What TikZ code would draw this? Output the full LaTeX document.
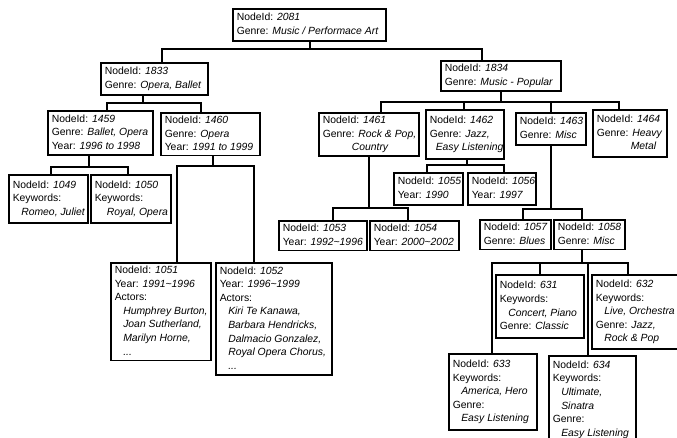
\documentclass[tikz,border=0pt]{standalone}
\usepackage{fontspec}
\setmainfont{Liberation Sans}
\newcommand\tbox[6]{%
  \pgfmathsetmacro\bw{#4-#2}\pgfmathsetmacro\bh{#5-#3}\pgfmathsetmacro\tw{#4-#2-7.5}%
  \node[tb,minimum width=\bw pt,minimum height=\bh pt] (#1) at (#2,#3)
    {\makebox[\tw pt][l]{\begin{tabular}{@{}l@{}}#6\end{tabular}}};}
\newcommand\iv[1]{\textit{#1}}
\newcommand\ind{\hspace*{8.5pt}}
\begin{document}
\begin{tikzpicture}[x=1pt,y=-1pt,
  tb/.style={draw, line width=1.2pt, anchor=north west, inner xsep=3.5pt, inner ysep=1pt,
    outer sep=0pt, font=\fontsize{10.4}{13.6}\selectfont},
  conn/.style={line width=1.2pt}]
\useasboundingbox (0,0) rectangle (677,437);
\clip (0,0) rectangle (677,437);
% boxes
\tbox{n2081}{233}{9}{386}{41}{NodeId: \iv{2081}\\Genre: \iv{Music / Performace Art}}
\tbox{n1833}{101}{63}{208}{95}{NodeId: \iv{1833}\\Genre: \iv{Opera, Ballet}}
\tbox{n1834}{441}{61}{561}{91}{NodeId: \iv{1834}\\Genre: \iv{Music - Popular}}
\tbox{n1459}{48}{111}{153}{155}{NodeId: \iv{1459}\\Genre: \iv{Ballet, Opera}\\Year: \iv{1996 to 1998}}
\tbox{n1460}{161}{113}{260}{155}{NodeId: \iv{1460}\\Genre: \iv{Opera}\\Year: \iv{1991 to 1999}}
\tbox{n1461}{319}{113}{419}{156}{NodeId: \iv{1461}\\Genre: \iv{Rock \& Pop,}\\\hspace*{29pt}\iv{Country}}
\tbox{n1462}{426}{110}{504}{159}{NodeId: \iv{1462}\\Genre: \iv{Jazz,}\\\hspace*{6pt}\iv{Easy Listening}}
\tbox{n1463}{516}{113}{586}{145}{NodeId: \iv{1463}\\Genre: \iv{Misc}}
\tbox{n1464}{593}{110}{667}{157}{NodeId: \iv{1464}\\Genre: \iv{Heavy}\\\hspace*{34pt}\iv{Metal}}
\tbox{n1049}{9}{175}{88}{223}{NodeId: \iv{1049}\\Keywords:\\\ind\iv{Romeo, Juliet}}
\tbox{n1050}{91}{175}{171}{223}{NodeId: \iv{1050}\\Keywords:\\\hspace*{12pt}\iv{Royal, Opera}}
\tbox{n1051}{111}{263}{211}{360}{NodeId: \iv{1051}\\Year: \iv{1991\textasciitilde1996}\\Actors:\\\ind\iv{Humphrey Burton,}\\\ind\iv{Joan Sutherland,}\\\ind\iv{Marilyn Horne,}\\\ind\iv{...}}
\tbox{n1052}{216}{263}{332}{375}{NodeId: \iv{1052}\\Year: \iv{1996\textasciitilde1999}\\Actors:\\\ind\iv{Kiri Te Kanawa,}\\\ind\iv{Barbara Hendricks,}\\\ind\iv{Dalmacio Gonzalez,}\\\ind\iv{Royal Opera Chorus,}\\\ind\iv{...}}
\tbox{n1053}{279}{221}{367}{250}{NodeId: \iv{1053}\\Year: \iv{1992\textasciitilde1996}}
\tbox{n1054}{370}{221}{459}{250}{NodeId: \iv{1054}\\Year: \iv{2000\textasciitilde2002}}
\tbox{n1055}{394}{173}{463}{205}{NodeId: \iv{1055}\\Year: \iv{1990}}
\tbox{n1056}{468}{173}{536}{205}{NodeId: \iv{1056}\\Year: \iv{1997}}
\tbox{n1057}{480}{220}{551}{249}{NodeId: \iv{1057}\\Genre: \iv{Blues}}
\tbox{n1058}{554}{220}{625}{249}{NodeId: \iv{1058}\\Genre: \iv{Misc}}
\tbox{n631}{496}{275}{584}{338}{NodeId: \iv{631}\\Keywords:\\\ind\iv{Concert, Piano}\\Genre: \iv{Classic}}
\tbox{n632}{592}{275}{690}{349}{NodeId: \iv{632}\\Keywords:\\\ind\iv{Live, Orchestra}\\Genre: \iv{Jazz,}\\\ind\iv{Rock \& Pop}}
\tbox{n633}{449}{354}{537}{430}{NodeId: \iv{633}\\Keywords:\\\ind\iv{America, Hero}\\Genre:\\\ind\iv{Easy Listening}}
\tbox{n634}{549}{356}{636}{443}{NodeId: \iv{634}\\Keywords:\\\ind\iv{Ultimate,}\\\ind\iv{Sinatra}\\Genre:\\\ind\iv{Easy Listening}}
% connectors
\coordinate (j1) at (310,49); \coordinate (b1l) at (162,49); \coordinate (b1r) at (482,49);
\draw[conn] (n2081.south -| j1) -- (j1);
\draw[conn] (n1833.north -| b1l) -- (b1l) -- (b1r) -- (n1834.north -| b1r);
\coordinate (j2) at (143,103); \coordinate (b2l) at (107,103); \coordinate (b2r) at (201,103);
\draw[conn] (n1833.south -| j2) -- (j2);
\draw[conn] (n1459.north -| b2l) -- (b2l) -- (b2r) -- (n1460.north -| b2r);
\coordinate (j3) at (89,167); \coordinate (b3l) at (51,167); \coordinate (b3r) at (128,167);
\draw[conn] (n1459.south -| j3) -- (j3);
\draw[conn] (n1049.north -| b3l) -- (b3l) -- (b3r) -- (n1050.north -| b3r);
\coordinate (j4) at (213,166); \coordinate (b4l) at (177,166); \coordinate (b4r) at (254,166);
\draw[conn] (n1460.south -| j4) -- (j4);
\draw[conn] (n1051.north -| b4l) -- (b4l) -- (b4r) -- (n1052.north -| b4r);
\coordinate (j5) at (501,102); \coordinate (b5a) at (381,102); \coordinate (b5b) at (464,102);
\coordinate (b5c) at (551,102); \coordinate (b5d) at (619,102);
\draw[conn] (n1834.south -| j5) -- (j5);
\draw[conn] (n1461.north -| b5a) -- (b5a) -- (b5d) -- (n1464.north -| b5d);
\draw[conn] (b5b) -- (n1462.north -| b5b);
\draw[conn] (b5c) -- (n1463.north -| b5c);
\coordinate (j6) at (369,208); \coordinate (b6l) at (333,208); \coordinate (b6r) at (408,208);
\draw[conn] (n1461.south -| j6) -- (j6);
\draw[conn] (n1053.north -| b6l) -- (b6l) -- (b6r) -- (n1054.north -| b6r);
\coordinate (j7) at (467,165); \coordinate (b7l) at (427,165); \coordinate (b7r) at (504,165);
\draw[conn] (n1462.south -| j7) -- (j7);
\draw[conn] (n1055.north -| b7l) -- (b7l) -- (b7r) -- (n1056.north -| b7r);
\coordinate (j8) at (551,209); \coordinate (b8l) at (523,209); \coordinate (b8r) at (582,209);
\draw[conn] (n1463.south -| j8) -- (j8);
\draw[conn] (n1057.north -| b8l) -- (b8l) -- (b8r) -- (n1058.north -| b8r);
\coordinate (j9) at (582,263); \coordinate (b9a) at (492,263); \coordinate (b9b) at (540,263);
\coordinate (b9c) at (588,263); \coordinate (b9d) at (628,263);
\draw[conn] (n1058.south -| j9) -- (j9);
\draw[conn] (n633.north -| b9a) -- (b9a) -- (b9d) -- (n632.north -| b9d);
\draw[conn] (b9b) -- (n631.north -| b9b);
\draw[conn] (b9c) -- (n634.north -| b9c);
\end{tikzpicture}
\end{document}
